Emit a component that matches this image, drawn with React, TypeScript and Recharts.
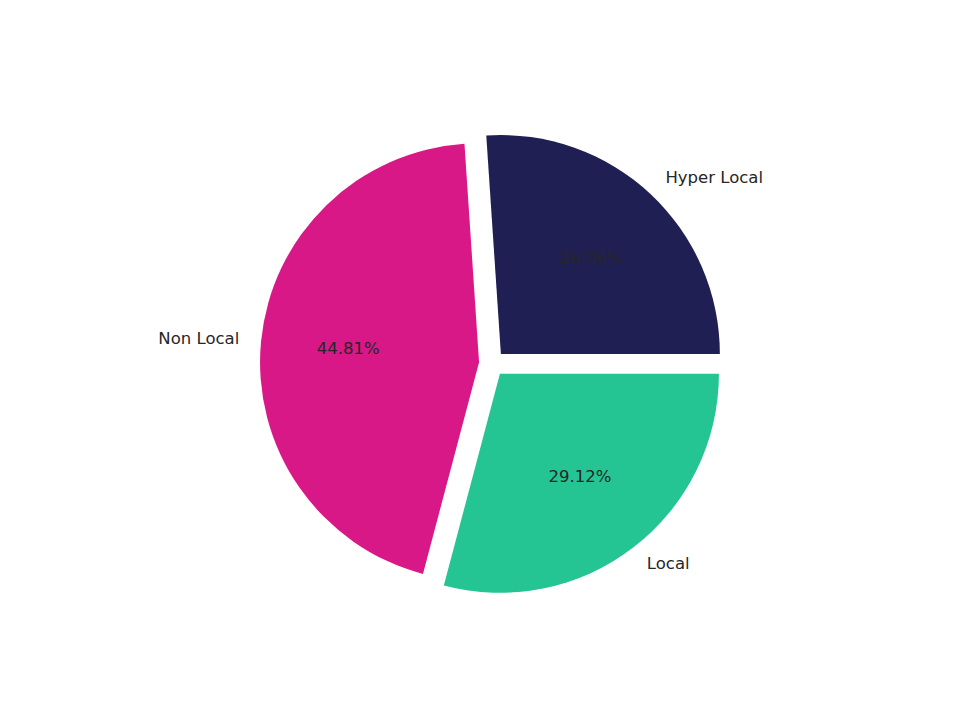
import React from "react";
import { PieChart, Pie, Cell } from "recharts";

const categories = ["Hyper Local", "Non Local", "Local"];
const shares = [26.06, 44.81, 29.12];
const colors = ["#1f1f54", "#d81887", "#25c493"];

const data = categories.map((name, i) => ({ name, value: shares[i] }));

const CX = 492;
const CY = 363.5;
const RADIUS = 219;
const EXPLODE = 13;
const RAD = Math.PI / 180;

const total = shares.reduce((a, b) => a + b, 0);

// mid angle of each slice, counter-clockwise from 3 o'clock
const midAngles = shares.map((v, i) => {
  const before = shares.slice(0, i).reduce((a, b) => a + b, 0);
  return ((before + v / 2) / total) * 360;
});

const textStyle = {
  fontFamily: "DejaVu Sans, sans-serif",
  fontSize: 16.5,
  fill: "#262626",
};

const makeLabel = (only: number) => (props: any) => {
  const { cx, cy, midAngle, outerRadius, percent, index, name } = props;
  if (index !== only) return null;
  const cos = Math.cos(-midAngle * RAD);
  const sin = Math.sin(-midAngle * RAD);
  const lx = cx + outerRadius * 1.1 * cos;
  const ly = cy + outerRadius * 1.1 * sin - 1;
  const px = cx + outerRadius * 0.6 * cos;
  const py = cy + outerRadius * 0.6 * sin - 1;
  return (
    <g>
      <text
        x={lx}
        y={ly}
        textAnchor={cos >= 0 ? "start" : "end"}
        dominantBaseline="central"
        style={textStyle}
      >
        {name}
      </text>
      <text
        x={px}
        y={py}
        textAnchor="middle"
        dominantBaseline="central"
        style={textStyle}
      >
        {(percent * 100).toFixed(2)}%
      </text>
    </g>
  );
};

export default function App() {
  return (
    <div style={{ position: "absolute", left: 0, top: 0, background: "#fff" }}>
      <PieChart
        width={960}
        height={720}
        margin={{ top: 0, right: 0, bottom: 0, left: 0 }}
      >
        {data.map((d, k) => (
          <Pie
            key={d.name}
            data={data}
            dataKey="value"
            nameKey="name"
            cx={CX + EXPLODE * Math.cos(midAngles[k] * RAD)}
            cy={CY - EXPLODE * Math.sin(midAngles[k] * RAD)}
            outerRadius={RADIUS}
            startAngle={0}
            endAngle={360}
            stroke="none"
            labelLine={false}
            label={makeLabel(k)}
            isAnimationActive={false}
          >
            {data.map((c, i) => (
              <Cell key={c.name} fill={i === k ? colors[i] : "transparent"} />
            ))}
          </Pie>
        ))}
      </PieChart>
    </div>
  );
}
